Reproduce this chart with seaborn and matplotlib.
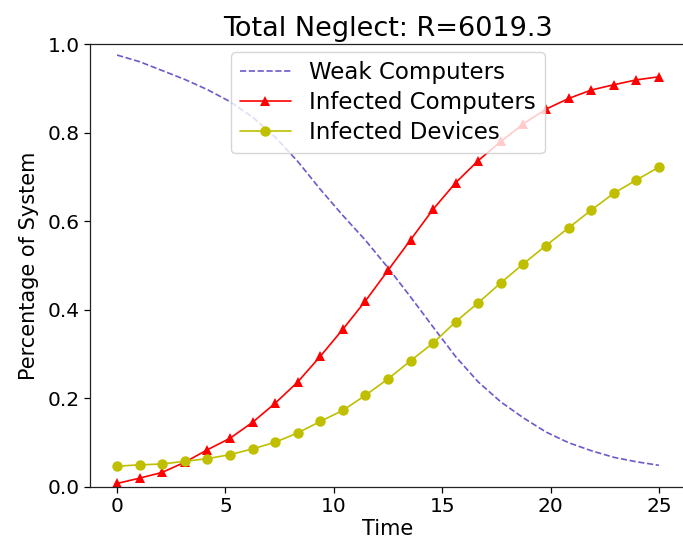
import numpy as np
import pandas as pd
import matplotlib
matplotlib.use("Agg")
import matplotlib.pyplot as plt
import seaborn as sns

time = np.linspace(0, 25, 25)

weak_computers = [0.975, 0.960, 0.940, 0.920, 0.897, 0.870, 0.835, 0.790, 0.735, 0.672,
                  0.613, 0.557, 0.495, 0.429, 0.361, 0.294, 0.237, 0.192, 0.156, 0.124,
                  0.100, 0.082, 0.067, 0.057, 0.049]
infected_computers = [0.008, 0.020, 0.033, 0.056, 0.084, 0.110, 0.146, 0.189, 0.237, 0.295,
                      0.356, 0.420, 0.489, 0.558, 0.627, 0.687, 0.737, 0.780, 0.820, 0.853,
                      0.877, 0.896, 0.908, 0.919, 0.926]
infected_devices = [0.047, 0.050, 0.052, 0.058, 0.064, 0.073, 0.086, 0.101, 0.122, 0.148,
                    0.173, 0.207, 0.244, 0.285, 0.325, 0.373, 0.416, 0.461, 0.504, 0.545,
                    0.585, 0.625, 0.663, 0.693, 0.722]

labels = ["Weak Computers", "Infected Computers", "Infected Devices"]
title = "Total Neglect: R=6019.3"

sns.set_style("ticks")
plt.rcParams['font.family'] = ['DejaVu Sans']
plt.rcParams['text.color'] = 'black'
plt.rcParams['axes.labelcolor'] = 'black'
plt.rcParams['xtick.color'] = 'black'
plt.rcParams['ytick.color'] = 'black'

fig = plt.figure(figsize=(6.83, 5.52), dpi=100)
ax = fig.add_axes([90 / 683, 1 - 487 / 552, 596 / 683, 443 / 552])

df = pd.DataFrame({"Time": time, "weak": weak_computers,
                   "ic": infected_computers, "idv": infected_devices})

sns.lineplot(data=df, x="Time", y="weak", ax=ax, color="#6a5acd", linestyle="--",
             linewidth=1.2, label=labels[0])
sns.lineplot(data=df, x="Time", y="ic", ax=ax, color="red", marker="^", markersize=7.5,
             markeredgewidth=0, linewidth=1.2, label=labels[1])
sns.lineplot(data=df, x="Time", y="idv", ax=ax, color="#bfbf00", marker="o", markersize=7.5,
             markeredgewidth=0, linewidth=1.2, label=labels[2])

ax.set_xlim(-1.25, 26.25)
ax.set_ylim(0, 1)
ax.set_xticks([0, 5, 10, 15, 20, 25])
ax.set_yticks([0.0, 0.2, 0.4, 0.6, 0.8, 1.0])
ax.set_yticklabels(["0.0", "0.2", "0.4", "0.6", "0.8", "1.0"])
ax.tick_params(labelsize=14.5, length=4, width=0.9, colors='black')
ax.set_xlabel("Time", fontsize=15, labelpad=2)
ax.set_ylabel("Percentage of System", fontsize=15, labelpad=6)
ax.set_title(title, fontsize=19.5, pad=6)
for s in ax.spines.values():
    s.set_linewidth(0.9)
    s.set_color("#222222")
ax.spines['right'].set_visible(False)

leg = ax.legend(loc="upper center", fontsize=16.5, frameon=True, borderaxespad=0.35,
                handlelength=2.2, labelspacing=0.3)
leg.get_frame().set_edgecolor("#cccccc")
for t in leg.get_texts():
    t.set_color("black")

fig.savefig("out.png", dpi=100)
